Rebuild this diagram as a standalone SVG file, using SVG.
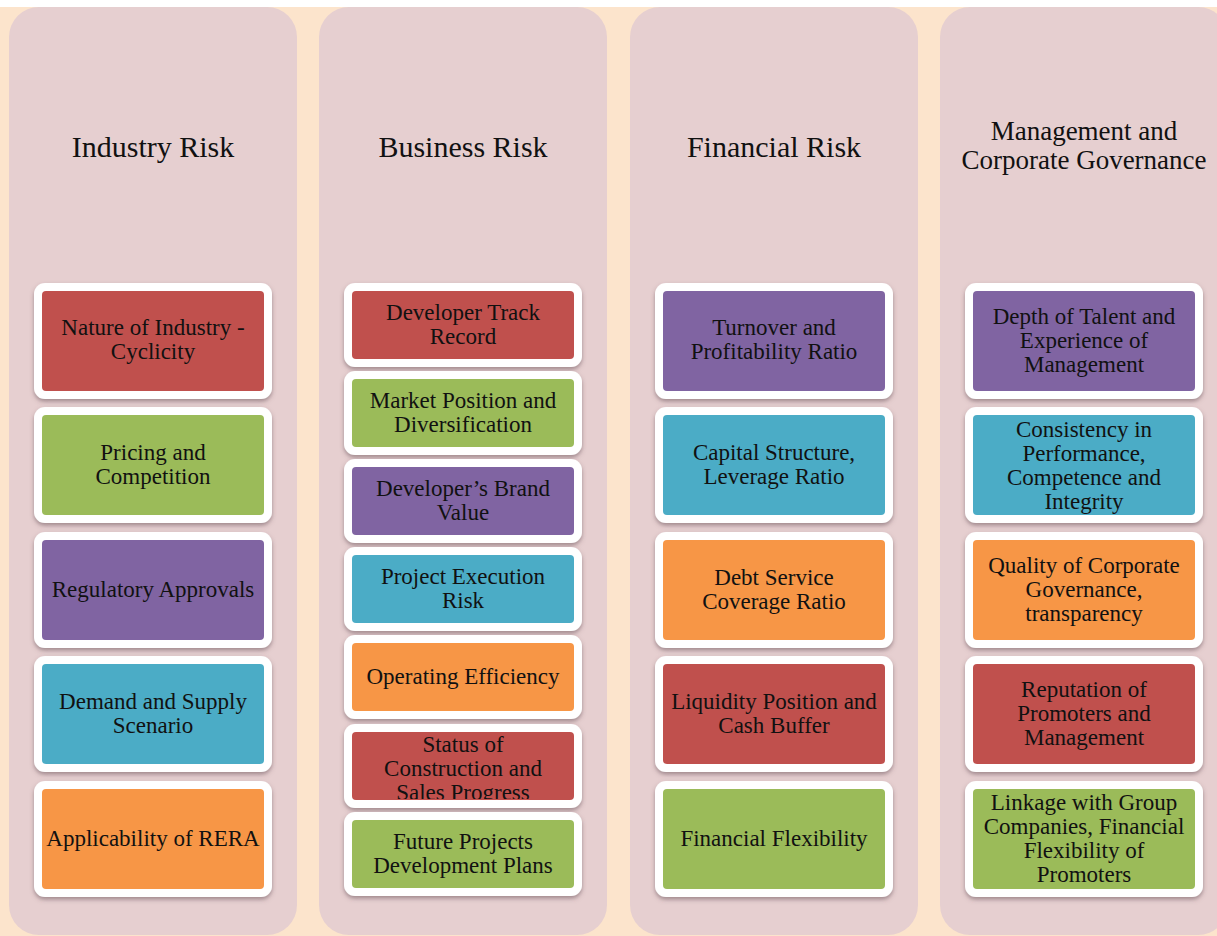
<svg xmlns="http://www.w3.org/2000/svg" width="1217" height="936" viewBox="0 0 1217 936">
<defs>
<style>
.col{fill:#E6CFD0}
.frame{fill:#FFFFFF;filter:url(#sh)}
.red{fill:#C0504D}.green{fill:#9BBB59}.purple{fill:#8064A2}.teal{fill:#4BACC6}.orange{fill:#F79646}
.title{font-family:"Liberation Serif","Times New Roman",serif;font-size:30px;fill:#111;text-anchor:middle}
.title2{font-family:"Liberation Serif","Times New Roman",serif;font-size:27px;fill:#111;text-anchor:middle}
.t{font-family:"Liberation Serif","Times New Roman",serif;font-size:23px;fill:#111;text-anchor:middle}
</style>
<filter id="sh" x="-10%" y="-10%" width="120%" height="130%">
<feDropShadow dx="0" dy="2.5" stdDeviation="2" flood-color="#5a4048" flood-opacity="0.5"/>
</filter>
<clipPath id="clipStatus"><rect x="352" y="732" width="222" height="67"/></clipPath>
</defs>
<rect x="0" y="0" width="1217" height="936" fill="#FFFFFF"/>
<rect x="0" y="7" width="1217" height="929" fill="#FCE4CC"/>

<g id="col-industry">
<rect class="col" x="9" y="7" width="288" height="928" rx="30"/>
<text class="title" x="153" y="157">Industry Risk</text>
</g>
<g id="col-business">
<rect class="col" x="319" y="7" width="288" height="928" rx="30"/>
<text class="title" x="463" y="157">Business Risk</text>
</g>
<g id="col-financial">
<rect class="col" x="630" y="7" width="288" height="928" rx="30"/>
<text class="title" x="774" y="157">Financial Risk</text>
</g>
<g id="col-management">
<rect class="col" x="940" y="7" width="288" height="928" rx="30"/>
<text class="title2" x="1084" y="140">Management and</text>
<text class="title2" x="1084" y="169">Corporate Governance</text>
</g>

<!-- Industry Risk -->
<g id="ir1"><rect class="frame" x="34" y="283" width="238" height="116" rx="11"/><rect class="red" x="42" y="291" width="222" height="100" rx="4"/>
<text class="t" x="153" y="335">Nature of Industry -</text><text class="t" x="153" y="359">Cyclicity</text></g>
<g id="ir2"><rect class="frame" x="34" y="407" width="238" height="116" rx="11"/><rect class="green" x="42" y="415" width="222" height="100" rx="4"/>
<text class="t" x="153" y="460">Pricing and</text><text class="t" x="153" y="484">Competition</text></g>
<g id="ir3"><rect class="frame" x="34" y="532" width="238" height="116" rx="11"/><rect class="purple" x="42" y="540" width="222" height="100" rx="4"/>
<text class="t" x="153" y="597">Regulatory Approvals</text></g>
<g id="ir4"><rect class="frame" x="34" y="656" width="238" height="116" rx="11"/><rect class="teal" x="42" y="664" width="222" height="100" rx="4"/>
<text class="t" x="153" y="709">Demand and Supply</text><text class="t" x="153" y="733">Scenario</text></g>
<g id="ir5"><rect class="frame" x="34" y="781" width="238" height="116" rx="11"/><rect class="orange" x="42" y="789" width="222" height="100" rx="4"/>
<text class="t" x="153" y="846">Applicability of RERA</text></g>

<!-- Business Risk -->
<g id="br1"><rect class="frame" x="344" y="283" width="238" height="84" rx="11"/><rect class="red" x="352" y="291" width="222" height="68" rx="4"/>
<text class="t" x="463" y="320">Developer Track</text><text class="t" x="463" y="344">Record</text></g>
<g id="br2"><rect class="frame" x="344" y="371" width="238" height="84" rx="11"/><rect class="green" x="352" y="379" width="222" height="68" rx="4"/>
<text class="t" x="463" y="408">Market Position and</text><text class="t" x="463" y="432">Diversification</text></g>
<g id="br3"><rect class="frame" x="344" y="459" width="238" height="84" rx="11"/><rect class="purple" x="352" y="467" width="222" height="68" rx="4"/>
<text class="t" x="463" y="496">Developer’s Brand</text><text class="t" x="463" y="520">Value</text></g>
<g id="br4"><rect class="frame" x="344" y="547" width="238" height="84" rx="11"/><rect class="teal" x="352" y="555" width="222" height="68" rx="4"/>
<text class="t" x="463" y="584">Project Execution</text><text class="t" x="463" y="608">Risk</text></g>
<g id="br5"><rect class="frame" x="344" y="635" width="238" height="84" rx="11"/><rect class="orange" x="352" y="643" width="222" height="68" rx="4"/>
<text class="t" x="463" y="684">Operating Efficiency</text></g>
<g id="br6"><rect class="frame" x="344" y="724" width="238" height="84" rx="11"/><rect class="red" x="352" y="732" width="222" height="68" rx="4"/>
<g clip-path="url(#clipStatus)"><text class="t" x="463" y="752">Status of</text><text class="t" x="463" y="776">Construction and</text><text class="t" x="463" y="800">Sales Progress</text></g></g>
<g id="br7"><rect class="frame" x="344" y="812" width="238" height="84" rx="11"/><rect class="green" x="352" y="820" width="222" height="68" rx="4"/>
<text class="t" x="463" y="849">Future Projects</text><text class="t" x="463" y="873">Development Plans</text></g>

<!-- Financial Risk -->
<g id="fr1"><rect class="frame" x="655" y="283" width="238" height="116" rx="11"/><rect class="purple" x="663" y="291" width="222" height="100" rx="4"/>
<text class="t" x="774" y="335">Turnover and</text><text class="t" x="774" y="359">Profitability Ratio</text></g>
<g id="fr2"><rect class="frame" x="655" y="407" width="238" height="116" rx="11"/><rect class="teal" x="663" y="415" width="222" height="100" rx="4"/>
<text class="t" x="774" y="460">Capital Structure,</text><text class="t" x="774" y="484">Leverage Ratio</text></g>
<g id="fr3"><rect class="frame" x="655" y="532" width="238" height="116" rx="11"/><rect class="orange" x="663" y="540" width="222" height="100" rx="4"/>
<text class="t" x="774" y="585">Debt Service</text><text class="t" x="774" y="609">Coverage Ratio</text></g>
<g id="fr4"><rect class="frame" x="655" y="656" width="238" height="116" rx="11"/><rect class="red" x="663" y="664" width="222" height="100" rx="4"/>
<text class="t" x="774" y="709">Liquidity Position and</text><text class="t" x="774" y="733">Cash Buffer</text></g>
<g id="fr5"><rect class="frame" x="655" y="781" width="238" height="116" rx="11"/><rect class="green" x="663" y="789" width="222" height="100" rx="4"/>
<text class="t" x="774" y="846">Financial Flexibility</text></g>

<!-- Management and Corporate Governance -->
<g id="mg1"><rect class="frame" x="965" y="283" width="238" height="116" rx="11"/><rect class="purple" x="973" y="291" width="222" height="100" rx="4"/>
<text class="t" x="1084" y="324">Depth of Talent and</text><text class="t" x="1084" y="348">Experience of</text><text class="t" x="1084" y="372">Management</text></g>
<g id="mg2"><rect class="frame" x="965" y="407" width="238" height="116" rx="11"/><rect class="teal" x="973" y="415" width="222" height="100" rx="4"/>
<text class="t" x="1084" y="437">Consistency in</text><text class="t" x="1084" y="461">Performance,</text><text class="t" x="1084" y="485">Competence and</text><text class="t" x="1084" y="509">Integrity</text></g>
<g id="mg3"><rect class="frame" x="965" y="532" width="238" height="116" rx="11"/><rect class="orange" x="973" y="540" width="222" height="100" rx="4"/>
<text class="t" x="1084" y="573">Quality of Corporate</text><text class="t" x="1084" y="597">Governance,</text><text class="t" x="1084" y="621">transparency</text></g>
<g id="mg4"><rect class="frame" x="965" y="656" width="238" height="116" rx="11"/><rect class="red" x="973" y="664" width="222" height="100" rx="4"/>
<text class="t" x="1084" y="697">Reputation of</text><text class="t" x="1084" y="721">Promoters and</text><text class="t" x="1084" y="745">Management</text></g>
<g id="mg5"><rect class="frame" x="965" y="781" width="238" height="116" rx="11"/><rect class="green" x="973" y="789" width="222" height="100" rx="4"/>
<text class="t" x="1084" y="810">Linkage with Group</text><text class="t" x="1084" y="834">Companies, Financial</text><text class="t" x="1084" y="858">Flexibility of</text><text class="t" x="1084" y="882">Promoters</text></g>
</svg>
